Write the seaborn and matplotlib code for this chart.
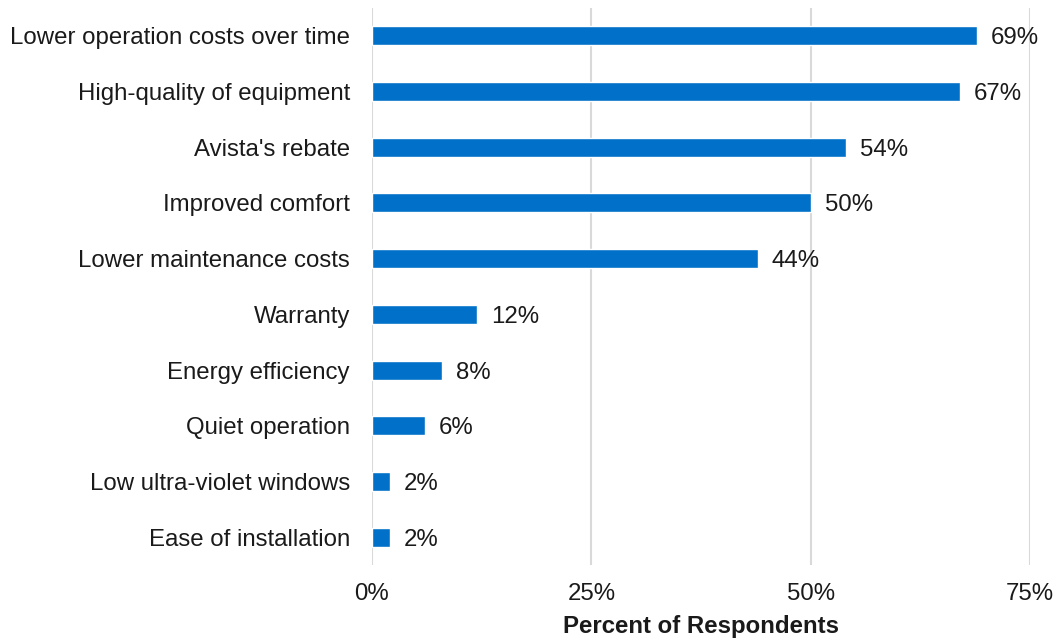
import matplotlib
matplotlib.use("Agg")
import matplotlib.pyplot as plt
import seaborn as sns
import pandas as pd
from matplotlib.ticker import FuncFormatter

# Reasons for choosing the equipment, share of respondents (%)
reasons = [
    "Lower operation costs over time",
    "High-quality of equipment",
    "Avista's rebate",
    "Improved comfort",
    "Lower maintenance costs",
    "Warranty",
    "Energy efficiency",
    "Quiet operation",
    "Low ultra-violet windows",
    "Ease of installation",
]
percents = [69, 67, 54, 50, 44, 12, 8, 6, 2, 2]
x_ticks = [0, 25, 50, 75]
x_label = "Percent of Respondents"

df = pd.DataFrame({"reason": reasons, "percent": percents})

sns.set_theme(style="white")
plt.rcParams["font.family"] = ["Liberation Sans", "DejaVu Sans"]

fig = plt.figure(figsize=(10.55, 6.41), dpi=100)
ax = fig.add_axes([0.3526, 0.1186, 0.6237, 0.8689])

sns.barplot(data=df, x="percent", y="reason", orient="h", color="#0070C8",
            saturation=1, width=0.34, ax=ax)

for c in ax.containers:
    texts = ax.bar_label(c, labels=[f"{v:.0f}%" for v in percents], padding=10,
                         fontsize=17.3, color="#1a1a1a")
    for t in texts:
        t.set_va("center_baseline")

ax.set_xlim(0, 75)
ax.set_ylim(len(reasons) - 0.5, -0.5)
ax.set_xticks(x_ticks)
ax.xaxis.set_major_formatter(FuncFormatter(lambda v, p: f"{v:.0f}%"))
ax.grid(axis="x", color="#D9D9D9", linewidth=1.5)
ax.grid(axis="y", visible=False)
ax.set_axisbelow(True)
for s in ["top", "right", "bottom", "left"]:
    ax.spines[s].set_visible(False)

ax.tick_params(axis="x", length=0, pad=13, labelsize=17.3, labelcolor="#1a1a1a")
ax.tick_params(axis="y", length=0, pad=16, labelsize=17.3, labelcolor="#1a1a1a")
ax.set_ylabel("")
ax.set_xlabel(x_label, fontsize=17.3, fontweight="bold", color="#1a1a1a", labelpad=7)

fig.savefig("out.png", dpi=100)
